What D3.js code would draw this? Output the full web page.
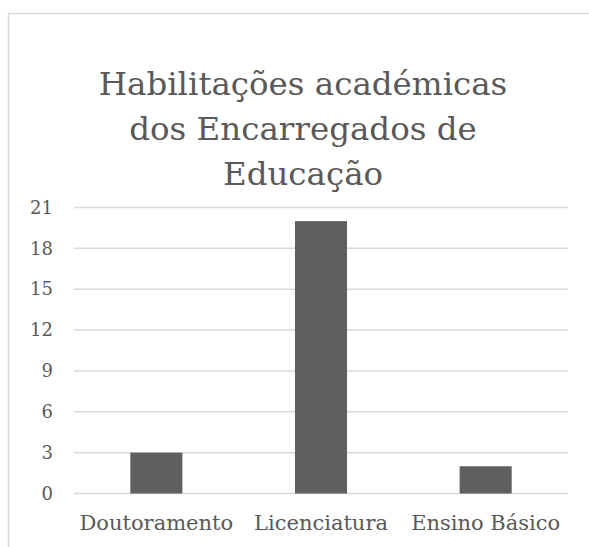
<!DOCTYPE html>
<html>
<head>
<meta charset="utf-8">
<script src="https://cdn.jsdelivr.net/npm/d3@7"></script>
<style>
  html, body { margin: 0; padding: 0; background: #fff; }
  svg text { font-family: "DejaVu Serif", "Liberation Serif", serif; fill: #595959; }
</style>
</head>
<body>
<div id="chart"></div>
<script>
// Habilitações académicas - bar chart redrawn with D3

const categories = ['Doutoramento', 'Licenciatura', 'Ensino Básico'];
const values     = [3, 20, 2];
const yTicks     = [0, 3, 6, 9, 12, 15, 18, 21];
const titleLines = ['Habilitações académicas', 'dos Encarregados de', 'Educação'];

const width = 589, height = 547;
const plot = { left: 74, right: 568, top: 207.5, bottom: 493.5 };   // grid area

const svg = d3.select('#chart')
              .append('svg')
              .attr('width', width)
              .attr('height', height);

// chart frame (only left/top visible, rest runs off the picture)
svg.append('rect')
   .attr('x', 8.5).attr('y', 13.5)
   .attr('width', width + 20).attr('height', height + 20)
   .attr('fill', 'none')
   .attr('stroke', '#d9d9d9')
   .attr('stroke-width', 1.5);

// --- Title ---
svg.append('text')
   .attr('text-anchor', 'middle')
   .style('font-size', '32.5px')
   .selectAll('tspan')
   .data(titleLines)
   .enter()
   .append('tspan')
   .attr('x', 303)
   .attr('y', (d, i) => 95 + i * 45)
   .text(d => d);

// --- Scales ---
const x = d3.scaleBand()
            .domain(categories)
            .range([plot.left, plot.right])
            .paddingInner(0.684)
            .paddingOuter(0.342);

const y = d3.scaleLinear()
            .domain([0, 21])
            .range([plot.bottom, plot.top]);

// gridlines
svg.append('g')
   .selectAll('line')
   .data(yTicks)
   .enter()
   .append('line')
   .attr('x1', plot.left).attr('x2', plot.right)
   .attr('y1', d => y(d)).attr('y2', d => y(d))
   .attr('stroke', '#d9d9d9')
   .attr('stroke-width', 1.5);

// bars
svg.append('g')
   .selectAll('rect')
   .data(values)
   .enter()
   .append('rect')
   .attr('x', (d, i) => x(categories[i]))
   .attr('width', x.bandwidth())
   .attr('y', d => y(d))
   .attr('height', d => y(0) - y(d))
   .attr('fill', '#5f5f5f');

// --- Y axis (labels only) ---
const yAxis = svg.append('g')
   .attr('transform', 'translate(' + (plot.left - 21) + ',0)')
   .call(d3.axisLeft(y).tickValues(yTicks).tickSize(0).tickPadding(0));
yAxis.select('.domain').remove();
yAxis.selectAll('.tick text')
     .style('font-size', '18px')
     .attr('fill', '#595959')
     .attr('font-family', null);

// --- X axis (labels only) ---
const xAxis = svg.append('g')
   .attr('transform', 'translate(0,' + plot.bottom + ')')
   .call(d3.axisBottom(x).tickSize(0).tickPadding(22));
xAxis.select('.domain').remove();
xAxis.selectAll('.tick text')
     .style('font-size', '21px')
     .attr('fill', '#595959')
     .attr('font-family', null);
</script>
</body>
</html>
